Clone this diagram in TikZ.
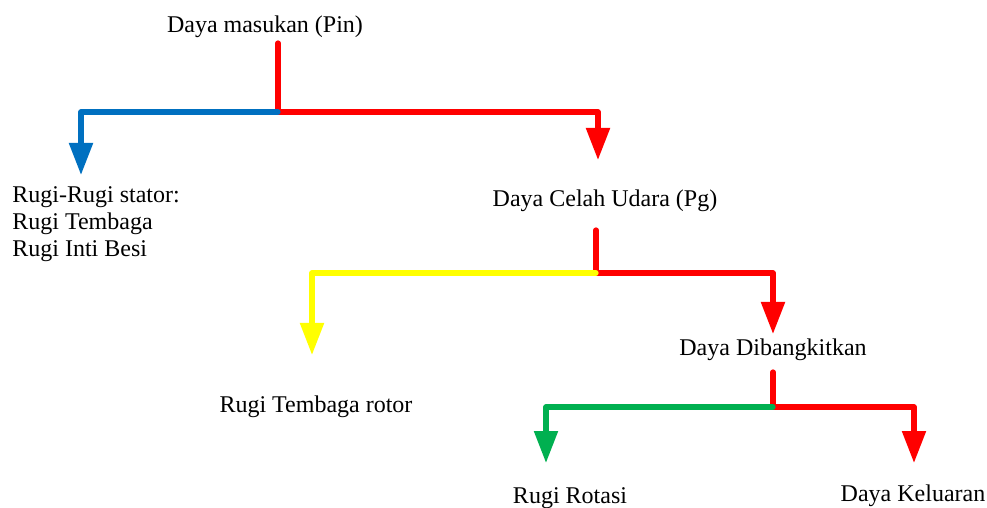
\documentclass[tikz,border=0pt]{standalone}
\usepackage{fontspec}
\setmainfont{Liberation Serif}
\usetikzlibrary{arrows.meta}

\definecolor{flowblue}{HTML}{0070C0}
\definecolor{flowred}{HTML}{FF0000}
\definecolor{flowyellow}{HTML}{FFFF00}
\definecolor{flowgreen}{HTML}{00B050}

\tikzset{
  label text/.style={font=\fontsize{12}{13.5}\selectfont, inner sep=0pt, text=black},
  flow/.style={line width=2.6pt, line cap=round, line join=round},
  flowtip/.style={flow, -{Triangle[width=11.5pt,length=16pt]}},
}

\begin{document}
\begin{tikzpicture}[x=0.5pt, y=-0.5pt]
  \useasboundingbox (0,0) rectangle (987,508);

  % power levels and losses
  \node[label text, anchor=base] (pin)    at (265,33)  {Daya masukan (Pin)};
  \node[label text, anchor=north west, align=left] (stator) at (12,186)
        {Rugi-Rugi stator:\\Rugi Tembaga\\Rugi Inti Besi};
  \node[label text, anchor=base] (pg)     at (605,206) {Daya Celah Udara (Pg)};
  \node[label text, anchor=base] (rotor)  at (316,413) {Rugi Tembaga rotor};
  \node[label text, anchor=base] (dev)    at (773,356) {Daya Dibangkitkan};
  \node[label text, anchor=base] (rot)    at (570,503) {Rugi Rotasi};
  \node[label text, anchor=base] (out)    at (913,502) {Daya Keluaran};

  % branch points and arrow tips
  \coordinate (s1) at (278,43);   \coordinate (j1) at (278,112);
  \coordinate (t1) at (81,175);   \coordinate (t2) at (598,160);
  \coordinate (s2) at (596,230);  \coordinate (j2) at (596,273);
  \coordinate (t3) at (312,355);  \coordinate (t4) at (773,334);
  \coordinate (s3) at (773,372);  \coordinate (j3) at (773,407);
  \coordinate (t5) at (546,463);  \coordinate (t6) at (914,463);

  % stage 1: input power splits into stator losses and air-gap power
  \draw[flowtip, color=flowred] (s1) -- (j1) -| (t2);
  \draw[flowtip, color=flowblue] (j1) -| (t1);

  % stage 2: air-gap power splits into rotor copper loss and developed power
  \draw[flowtip, color=flowred] (s2) -- (j2) -| (t4);
  \draw[flowtip, color=flowyellow] (j2) -| (t3);

  % stage 3: developed power splits into rotational loss and output power
  \draw[flowtip, color=flowred] (s3) -- (j3) -| (t6);
  \draw[flowtip, color=flowgreen] (j3) -| (t5);
\end{tikzpicture}
\end{document}
